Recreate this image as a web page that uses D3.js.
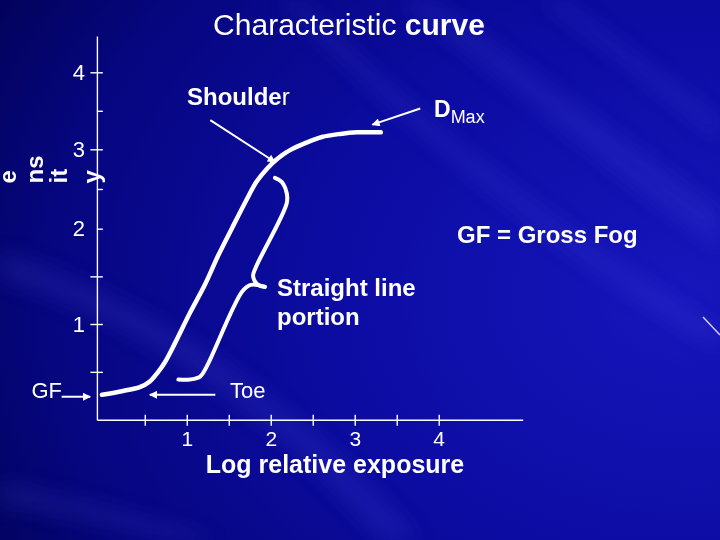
<!DOCTYPE html>
<html><head><meta charset="utf-8">
<script src="https://cdn.jsdelivr.net/npm/d3@7"></script>
<style>
html,body{margin:0;padding:0;background:#0a0a8a;}
svg{display:block;}
text{font-family:"Liberation Sans",Arial,sans-serif;fill:#ffffff;}
</style>
</head><body>
<svg id="chart" width="720" height="540"></svg>
<script>
// ---- data ----
const exposure = [-0.01, 0.24, 0.44, 0.56, 0.66, 0.74, 0.86, 1.04, 1.22, 1.37, 1.54, 1.70, 1.83, 1.95, 2.08, 2.23, 2.41, 2.61, 2.83, 3.03, 3.31];
const density  = [0.26, 0.30, 0.34, 0.40, 0.50, 0.60, 0.80, 1.12, 1.42, 1.71, 2.01, 2.34, 2.59, 2.75, 2.88, 2.99, 3.08, 3.16, 3.20, 3.22, 3.22];
const xTickLabels = [1, 2, 3, 4];
const xAllTicks = [0.5, 1, 1.5, 2, 2.5, 3, 3.5, 4];
const yTickLabels = [1, 2, 3, 4];
const yAllTicks = [0.5, 1, 1.5, 2, 2.5, 3, 3.5, 4];
const yTicksBothSides = [0.5, 1, 1.5, 3, 4];
const densityBreaks = [0, 1, 2, 3, 4, 4.47];
const braceUpperX = [2.05, 2.13, 2.19, 2.19, 1.82, 1.79, 1.85, 1.93];
const braceUpperY = [2.64, 2.59, 2.45, 2.32, 1.59, 1.50, 1.41, 1.39];
const braceLowerX = [1.93, 1.76, 1.66, 1.24, 1.16, 1.04, 0.90];
const braceLowerY = [1.39, 1.41, 1.34, 0.56, 0.45, 0.42, 0.42];
const yTitleParts = ["e", "ns", "it", "y"];

const svg = d3.select("#chart");
const W = 720, H = 540;

// ---- background ----
const defs = svg.append("defs");
const bg = defs.append("radialGradient").attr("id","bg")
  .attr("cx", 1.0).attr("cy", 0.55).attr("r", 1.15).attr("fx",0.95).attr("fy",0.55);
bg.append("stop").attr("offset","0%").attr("stop-color","#1616bc");
bg.append("stop").attr("offset","45%").attr("stop-color","#0c0ca2");
bg.append("stop").attr("offset","80%").attr("stop-color","#060680");
bg.append("stop").attr("offset","100%").attr("stop-color","#02025a");
svg.append("rect").attr("width",W).attr("height",H).attr("fill","url(#bg)");
defs.append("filter").attr("id","blur").attr("x","-20%").attr("y","-20%").attr("width","140%").attr("height","140%")
  .append("feGaussianBlur").attr("stdDeviation", 10);
const streaks = [
  "M430,0 C520,60 620,140 720,210 L720,250 C610,170 520,90 400,0 Z",
  "M560,0 C620,40 680,90 720,120 L720,140 C670,100 610,50 540,0 Z",
  "M300,0 C420,120 560,230 720,330 L720,350 C550,250 410,130 280,0 Z",
  "M0,250 C150,300 300,400 420,540 L380,540 C280,420 140,320 0,280 Z",
  "M0,480 C80,500 160,520 220,540 L170,540 C110,525 50,510 0,505 Z"
];
svg.append("g").attr("filter","url(#blur)").selectAll("path").data(streaks).join("path")
  .attr("d", d => d).attr("fill","#6a6aff").attr("opacity", 0.14);
svg.append("line").attr("x1",703).attr("y1",317).attr("x2",720).attr("y2",335)
  .attr("stroke","#d6c8ff").attr("stroke-width",1.5);

// ---- scales ----
const x = d3.scaleLinear().domain([-0.07, 5]).range([96.9, 522.7]);
const y = d3.scaleLinear().domain(densityBreaks).range([419.7, 324, 228.7, 149.3, 72.3, 36]);

// ---- axes ----
const xg = svg.append("g").attr("transform", `translate(0,${y(0)})`);
xg.call(d3.axisBottom(x).tickValues(xAllTicks).tickSize(6).tickSizeOuter(0).tickPadding(5)
  .tickFormat(d => xTickLabels.includes(d) ? String(d) : ""));
const xg2 = svg.append("g").attr("transform", `translate(0,${y(0)})`);
xg2.call(d3.axisTop(x).tickValues(xAllTicks).tickSize(5).tickSizeOuter(0).tickFormat(""));
xg2.select(".domain").remove();

const yg = svg.append("g").attr("transform", `translate(${x(-0.07)},0)`);
yg.call(d3.axisRight(y).tickValues(yAllTicks).tickSize(6).tickSizeOuter(0).tickFormat(""));
const yg2 = svg.append("g").attr("transform", `translate(${x(-0.07)},0)`);
yg2.call(d3.axisLeft(y).tickValues(yTicksBothSides).tickSize(6.5).tickFormat(""));
yg2.select(".domain").remove();
const yg3 = svg.append("g").attr("transform", `translate(${x(-0.07)},0)`);
yg3.call(d3.axisLeft(y).tickValues(yTickLabels).tickSize(0).tickPadding(12).tickFormat(d => String(d)));
yg3.select(".domain").remove();

svg.selectAll(".domain, .tick line").attr("stroke","#ffffff").attr("stroke-width",1.4);
xg.selectAll("text").attr("font-size",21).attr("font-family",'"Liberation Sans",Arial,sans-serif').attr("fill","#fff");
yg3.selectAll("text").attr("font-size",22).attr("font-family",'"Liberation Sans",Arial,sans-serif').attr("fill","#fff");

// ---- characteristic curve ----
const pts = exposure.map((e,i) => [e, density[i]]);
const line = d3.line().x(d => x(d[0])).y(d => y(d[1])).curve(d3.curveCatmullRom.alpha(0.5));
svg.append("path").datum(pts).attr("d", line)
  .attr("fill","none").attr("stroke","#ffffff").attr("stroke-width",4.5)
  .attr("stroke-linecap","round").attr("stroke-linejoin","round");

// ---- brace ----
const braceUpper = braceUpperX.map((v,i) => [v, braceUpperY[i]]);
const braceLower = braceLowerX.map((v,i) => [v, braceLowerY[i]]);
svg.selectAll("path.brace").data([braceUpper, braceLower]).join("path").attr("class","brace")
  .attr("d", line).attr("fill","none").attr("stroke","#ffffff").attr("stroke-width",4)
  .attr("stroke-linecap","round").attr("stroke-linejoin","round");

// ---- arrows ----
defs.append("marker").attr("id","ah").attr("viewBox","0 0 10 10").attr("refX",9).attr("refY",5)
  .attr("markerWidth",5).attr("markerHeight",4).attr("orient","auto").attr("markerUnits","strokeWidth")
  .append("path").attr("d","M0,0 L10,5 L0,10 Z").attr("fill","#ffffff");
const arrows = [
  {x1: 1.28, y1: 3.38, x2: 2.05, y2: 2.84},   // Shoulder
  {x1: 3.78, y1: 3.53, x2: 3.21, y2: 3.32},   // DMax
  {x1: -0.49, y1: 0.24, x2: -0.15, y2: 0.24}, // GF
  {x1: 1.34, y1: 0.26, x2: 0.56, y2: 0.26}    // Toe
];
svg.selectAll("line.arrow").data(arrows).join("line").attr("class","arrow")
  .attr("x1", d => x(d.x1)).attr("y1", d => y(d.y1))
  .attr("x2", d => x(d.x2)).attr("y2", d => y(d.y2))
  .attr("stroke","#ffffff").attr("stroke-width",2).attr("marker-end","url(#ah)");

// ---- texts ----
const title = svg.append("text").attr("x",349).attr("y",35).attr("text-anchor","middle").attr("font-size",30);
title.append("tspan").text("Characteristic ");
title.append("tspan").attr("font-weight","bold").text("curve");

const sh = svg.append("text").attr("x",187).attr("y",105).attr("font-size",24);
sh.append("tspan").attr("font-weight","bold").text("Shoulde");
sh.append("tspan").text("r");

const dm = svg.append("text").attr("x",434).attr("y",116.7);
dm.append("tspan").attr("font-size",23).attr("font-weight","bold").text("D");
dm.append("tspan").attr("font-size",18).attr("dy",6).text("Max");

svg.append("text").attr("x",457).attr("y",242.7).attr("font-size",24).attr("font-weight","bold").text("GF = Gross Fog");
svg.append("text").attr("x",277).attr("y",296).attr("font-size",24).attr("font-weight","bold").text("Straight line");
svg.append("text").attr("x",277).attr("y",325).attr("font-size",24).attr("font-weight","bold").text("portion");
svg.append("text").attr("x",230).attr("y",398.3).attr("font-size",22).text("Toe");
svg.append("text").attr("x",31.5).attr("y",398.3).attr("font-size",22).text("GF");

svg.append("text").attr("x",335).attr("y",473).attr("text-anchor","middle")
  .attr("font-size",25).attr("font-weight","bold").text("Log relative exposure");

const yTitleX = [16, 43, 67, 100];
svg.selectAll("text.ytitle").data(yTitleParts).join("text").attr("class","ytitle")
  .attr("transform", (d,i) => `translate(${yTitleX[i]},183.5) rotate(-90)`)
  .attr("font-size",24).attr("font-weight","bold").text(d => d);
</script>
</body></html>
